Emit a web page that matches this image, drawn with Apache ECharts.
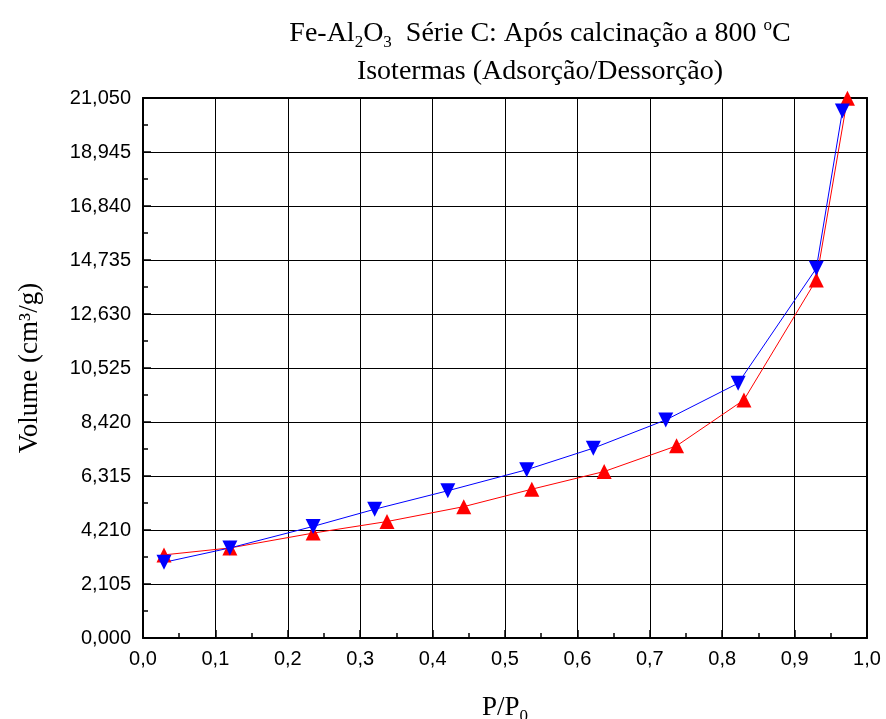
<!DOCTYPE html>
<html>
<head>
<meta charset="utf-8">
<script src="https://cdn.jsdelivr.net/npm/echarts@6/dist/echarts.min.js"></script>
<style>
 html,body{margin:0;padding:0;background:#fff;}
 #main{width:886px;height:719px;}
</style>
</head>
<body>
<div id="main"></div>
<script>
// adsorcao (vermelho, triangulo para cima)
var adsP = [0.029, 0.120, 0.235, 0.337, 0.443, 0.537, 0.637, 0.737, 0.830, 0.930, 0.973];
var adsV = [3.24, 3.51, 4.09, 4.54, 5.12, 5.80, 6.49, 7.49, 9.28, 13.96, 21.04];
// dessorcao (azul, triangulo para baixo)
var desP = [0.029, 0.120, 0.235, 0.320, 0.421, 0.530, 0.622, 0.722, 0.822, 0.930, 0.966];
var desV = [2.95, 3.51, 4.35, 5.02, 5.74, 6.56, 7.40, 8.50, 9.93, 14.41, 20.54];

var yMax = 21.05, yStep = 2.105;

function pares(xs, ys) {
  var out = [];
  for (var i = 0; i < xs.length; i++) out.push([xs[i], ys[i]]);
  return out;
}

var chart = echarts.init(document.getElementById('main'));
var serif = '"Liberation Serif", "Times New Roman", serif';
var sans = '"Liberation Sans", Arial, sans-serif';

var option = {
  backgroundColor: '#fff',
  animation: false,
  title: {
    text: '{t|Fe-Al}{s|2}{t|O}{s|3}{t|  Série C: Após calcinação a 800 }{p|o}{t|C}\n{t|Isotermas (Adsorção/Dessorção)}',
    left: 535,
    top: 10,
    textAlign: 'center',
    textStyle: {
      fontWeight: 'normal',
      rich: {
        t: {fontFamily: serif, fontSize: 28, fontWeight: 'normal', color: '#000', lineHeight: 38},
        s: {fontFamily: serif, fontSize: 17, fontWeight: 'normal', color: '#000', lineHeight: 38, padding: [17, 0, 0, 0]},
        p: {fontFamily: serif, fontSize: 17, fontWeight: 'normal', color: '#000', lineHeight: 38, padding: [0, 0, 16, 0]}
      }
    }
  },
  grid: {left: 143, right: 19, top: 98, bottom: 81, outerBoundsMode: 'none', containLabel: false},
  xAxis: [{
    type: 'value', min: 0, max: 1, interval: 0.1,
    name: '{t|P/P}{s|0}', nameLocation: 'middle', nameGap: 55,
    nameTextStyle: {
      rich: {
        t: {fontFamily: serif, fontSize: 27, color: '#000', lineHeight: 30},
        s: {fontFamily: serif, fontSize: 17, color: '#000', lineHeight: 30, padding: [18, 0, 0, 0]}
      }
    },
    axisLine: {show: true, onZero: false, lineStyle: {color: '#000', width: 2}},
    axisTick: {show: true, inside: true, length: 8, lineStyle: {color: '#000', width: 1.5}},
    minorTick: {show: true, splitNumber: 2, length: 5, lineStyle: {color: '#000', width: 1.5}},
    axisLabel: {color: '#000', fontFamily: sans, fontSize: 20, margin: 11,
      formatter: function (v) { return v.toFixed(1).replace('.', ','); }},
    splitLine: {show: true, lineStyle: {color: '#000', width: 1}}
  }, {
    type: 'value', min: 0, max: 1, interval: 0.1, position: 'top',
    axisLine: {show: true, onZero: false, lineStyle: {color: '#000', width: 2}},
    axisTick: {show: false}, axisLabel: {show: false}, splitLine: {show: false}
  }],
  yAxis: [{
    type: 'value', min: 0, max: yMax, interval: yStep,
    name: 'Volume (cm³/g)', nameLocation: 'middle', nameGap: 100,
    nameTextStyle: {fontFamily: serif, fontSize: 27, color: '#000'},
    axisLine: {show: true, onZero: false, lineStyle: {color: '#000', width: 2}},
    axisTick: {show: true, inside: true, length: 8, lineStyle: {color: '#000', width: 1.5}},
    minorTick: {show: true, splitNumber: 2, length: 5, lineStyle: {color: '#000', width: 1.5}},
    axisLabel: {color: '#000', fontFamily: sans, fontSize: 20, margin: 12,
      formatter: function (v) { return v.toFixed(3).replace('.', ','); }},
    splitLine: {show: true, lineStyle: {color: '#000', width: 1}}
  }, {
    type: 'value', min: 0, max: yMax, interval: yStep, position: 'right',
    axisLine: {show: true, onZero: false, lineStyle: {color: '#000', width: 2}},
    axisTick: {show: false}, axisLabel: {show: false}, splitLine: {show: false}
  }],
  series: [{
    name: 'Adsorção', type: 'line', data: pares(adsP, adsV),
    symbol: 'triangle', symbolSize: 15,
    itemStyle: {color: '#ff0000'},
    lineStyle: {color: '#ff0000', width: 1}
  }, {
    name: 'Dessorção', type: 'line', data: pares(desP, desV),
    symbol: 'triangle', symbolSize: 15, symbolRotate: 180,
    itemStyle: {color: '#0000ff'},
    lineStyle: {color: '#0000ff', width: 1}
  }]
};
chart.setOption(option);
</script>
</body>
</html>
